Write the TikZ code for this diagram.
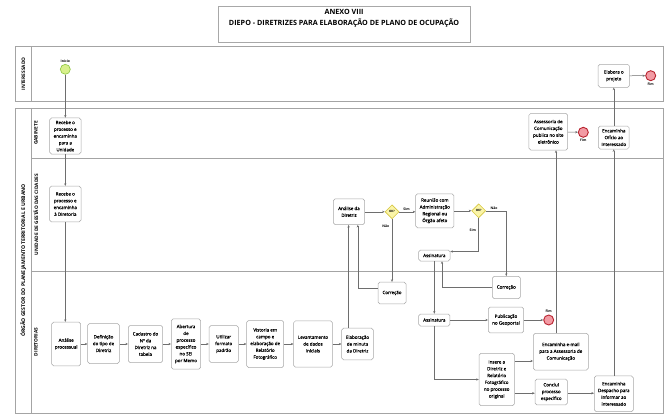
\documentclass[tikz,border=0pt]{standalone}
\usepackage{fontspec}
\setmainfont{Open Sans}
\newfontfamily\boxfont[FakeBold=0.35]{Open Sans}
\usetikzlibrary{arrows.meta,shapes.geometric,calc,positioning}
\definecolor{boxline}{HTML}{A8A8A8}
\definecolor{poolline}{HTML}{A4A4A4}
\definecolor{conn}{HTML}{6E6E6E}
\definecolor{startfill}{HTML}{D8F08C}
\definecolor{startline}{HTML}{8CC63F}
\definecolor{endfill}{HTML}{F29BA4}
\definecolor{endline}{HTML}{B8232F}
\definecolor{gwfill}{HTML}{FBF5A8}
\definecolor{gwline}{HTML}{D6C640}
\begin{document}
\begin{tikzpicture}[x=1pt,y=-1pt,
  box/.style={draw=boxline, fill=white, rounded corners=1.8pt, align=center, inner sep=0pt,
    line width=0.5pt, font=\boxfont\fontsize{4.5}{6.8}\selectfont},
  sz/.style 2 args={minimum width=#1, minimum height=#2},
  pool/.style={draw=poolline, line width=0.6pt},
  lanelbl/.style={rotate=90, font=\fontsize{4.8}{6}\selectfont\bfseries, inner sep=0pt},
  startev/.style={circle, draw=startline, fill=startfill, line width=0.6pt, minimum size=10, inner sep=0pt},
  endev/.style={circle, draw=endline, fill=endfill, line width=0.9pt, minimum size=10, inner sep=0pt},
  gw/.style={diamond, draw=gwline, fill=gwfill, line width=0.6pt, minimum width=14, minimum height=14,
    inner sep=0pt, font=\fontsize{3}{4}\selectfont\bfseries},
  lbl/.style={font=\fontsize{3.4}{4.5}\selectfont\bfseries, inner sep=1pt},
  arr/.style={draw=conn, line width=0.5pt, -{Stealth[length=2.6pt,width=2.2pt]}}
]
\useasboundingbox (0,0) rectangle (670,420);
\fill[white] (0,0) rectangle (670,420);

% title
\node[draw=boxline, line width=0.5pt, minimum width=251.7, minimum height=35.6, inner sep=0pt] (titlebox) at (344.1,24.5) {};
\node[align=center, font=\fontsize{7.2}{10.3}\selectfont\bfseries, inner sep=0pt, anchor=north] (titletext) at (344.1,9.3)
  {ANEXO VIII\\DIEPO - DIRETRIZES PARA ELABORAÇÃO DE PLANO DE OCUPAÇÃO};

% pools and lanes
\draw[pool] (15,46.7) rectangle (663,101);
\draw[pool] (31.7,46.7) -- (31.7,101);
\draw[pool] (15,108) rectangle (663,413);
\draw[pool] (31.7,108) -- (31.7,413);
\draw[pool] (31.7,158) -- (663,158);
\draw[pool] (31.7,271) -- (663,271);
\node[lanelbl] (lint) at (23.5,74) {INTERESSADO};
\node[lanelbl, font=\fontsize{5.1}{7}\selectfont\bfseries] (lorg) at (23.2,260.5) {ÓRGÃO GESTOR DO PLANEJAMENTO TERRITORIAL E URBANO};
\node[lanelbl] (lgab) at (36,133) {GABINETE};
\node[lanelbl] (lugc) at (36,214.5) {UNIDADE DE GESTÃO DAS CIDADES};
\node[lanelbl] (ldir) at (36,342) {DIRETORIAS};

% helper coordinates
\coordinate (xa) at (348.6,0);
\coordinate (xb) at (357.8,0);
\coordinate (xc) at (442,0);
\coordinate (xd) at (556,0);
\coordinate (ya) at (0,288.4);
\coordinate (yb) at (0,251.5);
\coordinate (yc) at (0,361);
\coordinate (yd) at (0,393.2);

% events
\node[startev] (ini) at (65.3,69.3) {};
\node[lbl, above=0.6pt of ini] (inilbl) {Inicio};
\node[endev] (fim1) at (650.7,75.7) {};
\node[lbl, below=0.4pt of fim1] (fim1lbl) {Fim};
\node[endev] (fim2) at (583.3,132.3) {};
\node[lbl, below=0.4pt of fim2] (fim2lbl) {Fim};
\node[endev] (fim3) at (548.7,320) {};
\node[lbl, above=0.6pt of fim3] (fim3lbl) {Fim};

% tasks
\node[box, sz={31.4}{36}] (gab1) at (65.3,136) {Recebe o\\processo e\\encaminha\\para a\\Unidade};
\node[box, sz={31.4}{35.7}] (ugc1) at (65.3,204) {Recebe o\\processo e\\encaminha\\à Diretoria};
\node[box, sz={29}{43.7}] (ap) at (66.2,344) {Análise\\processual};
\node[box, sz={31.6}{40}] (def) at (103.5,343.5) {Definição\\do tipo de\\Diretriz};
\node[box, sz={34.4}{37}] (cad) at (145.5,344) {Cadastro do\\Nº da\\Diretriz na\\tabela};
\node[box, sz={29.4}{50.3}] (abe) at (186,344) {Abertura\\de\\processo\\específico\\no SEI\\por Memo};
\node[box, sz={29.3}{36.7}] (uti) at (223.7,344) {Utilizar\\formato\\padrão};
\node[box, sz={37}{47}] (vis) at (265.2,344) {Vistoria em\\campo e\\elaboração de\\Relatório\\Fotográfico};
\node[box, sz={38.6}{46.3}] (lev) at (313,344) {Levantamento\\de dados\\iniciais};
\node[box, sz={31.6}{31.6}] (min) at (357.5,344) {Elaboração\\de minuta\\da Diretriz};
\node[box, sz={31.4}{25.7}] (ad) at (349,211.8) {Análise da\\Diretriz};
\node[gw] (gw1) at (392,211.8) {OK?};
\node[box, sz={38.3}{34}] (reu) at (434.8,210.8) {Reunião com\\Administração\\Regional ou\\Órgão afeto};
\node[gw] (gw2) at (478.7,210.8) {OK?};
\node[box, sz={31.4}{11}] (asn1) at (434.3,255.5) {Assinatura};
\node[box, sz={28}{21.7}] (corL) at (392,293) {Correção};
\node[box, sz={28}{22.3}] (corR) at (506.3,287.5) {Correção};
\node[box, sz={31.3}{12}] (asn2) at (434.3,320) {Assinatura};
\node[box, sz={35.4}{25.6}] (pub) at (506,320) {Publicação\\no Geoportal};
\node[box, sz={55}{36.7}] (email) at (560.8,351.7) {Encaminha e-mail\\para a Assessoria de\\Comunicação};
\node[box, sz={35.3}{52.4}] (ins) at (496.7,379.5) {Insere a\\Diretriz e\\Relatório\\Fotográfico\\no processo\\original};
\node[box, sz={32.3}{25.7}] (conc) at (551.2,392) {Conclui\\processo\\específico};
\node[box, sz={39}{35.7}] (desp) at (613.8,393.8) {Encaminha\\Despacho para\\informar ao\\interessado};
\node[box, sz={38.7}{36.7}] (ass) at (548.3,131.7) {Assessoria de\\Comunicação\\publica no site\\eletrônico};
\node[box, sz={30.7}{23}] (ofi) at (613.8,137.5) {Encaminha\\Ofício ao\\Interessado};
\node[box, sz={31.3}{23}] (elab) at (613.8,75.8) {Elabora o\\projeto};

% connectors
\draw[arr] (ini) -- (gab1);
\draw[arr] (gab1) -- (ugc1);
\draw[arr] (ugc1.south) -- (ugc1.south |- ap.north);
\draw[arr] (ap) -- (def.west |- ap);
\draw[arr] (def.east |- cad) -- (cad);
\draw[arr] (cad) -- (abe);
\draw[arr] (abe) -- (uti);
\draw[arr] (uti) -- (vis);
\draw[arr] (vis) -- (lev);
\draw[arr] (lev) -- (min);
\draw[arr] (xa |- min.north) -- (xa |- ad.south);
\draw[arr] (ad) -- (gw1);
\draw[arr] (gw1.east) -- (reu.west |- gw1.east) node[lbl, pos=0.45, above] (sim1) {Sim};
\draw[arr] (reu.east |- gw2) -- (gw2.west);
\draw[arr] (gw1.south) -- (corL.north) node[lbl, pos=0.12, left=1.5pt] (nao1) {Não};
\draw[arr] (corL.west |- ya) -| (xb |- ad.south);
\draw[arr] (gw2.south) |- (asn1.east |- yb) node[lbl, pos=0.18, left=1.5pt] (sim2) {Sim};
\draw[arr] (gw2.east) -| (corR.north) node[lbl, pos=0.2, above] (nao2) {Não};
\draw[arr] (corR.west) -| (xc |- asn1.south);
\draw[arr] (asn1) -- (asn2);
\draw[arr] (asn2) -- (pub);
\draw[arr] (pub) -- (fim3);
\draw[arr] (asn2.south) |- (ins.west);
\draw[arr] (ins.east |- yc) -- (email.west |- yc);
\draw[arr] (ins.east |- yd) -- (conc.west |- yd);
\draw[arr] (conc.east |- yd) -- (desp.west |- yd);
\draw[arr] (xd |- email.north) -- (xd |- ass.south);
\draw[arr] (desp) -- (ofi);
\draw[arr] (ofi) -- (elab);
\draw[arr] (elab) -- (fim1);
\draw[arr] (ass) -- (fim2);
\end{tikzpicture}
\end{document}
